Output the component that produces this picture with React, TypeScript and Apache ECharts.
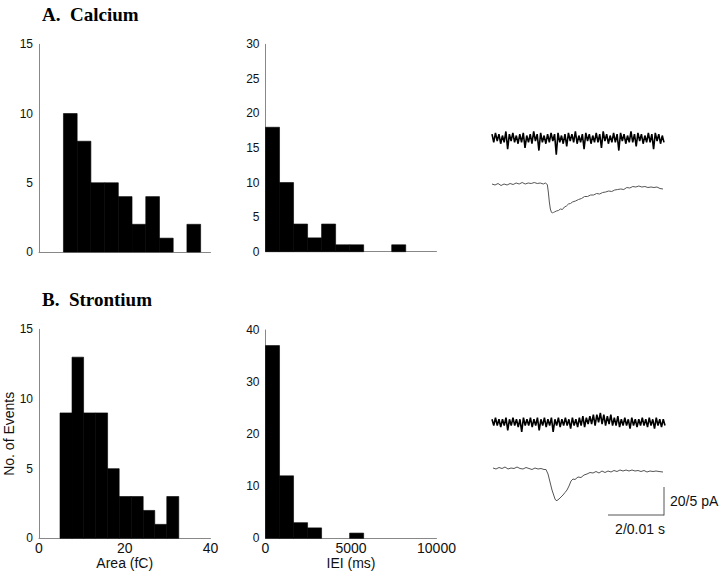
import React, { useEffect, useRef } from "react";
import * as echarts from "echarts";

// Histogram bin edges and counts
const caAreaEdges = [5.7, 8.9, 12.1, 15.3, 18.5, 21.7, 24.9, 28.1, 31.3, 34.5, 37.7];
const caAreaCounts = [10, 8, 5, 5, 4, 2, 4, 1, 0, 2];
const caIeiEdges = [0, 820, 1640, 2460, 3280, 4100, 4920, 5740, 6560, 7380, 8200];
const caIeiCounts = [18, 10, 4, 2, 4, 1, 1, 0, 0, 1];
const srAreaEdges = [4.9, 7.7, 10.4, 13.2, 16.0, 18.7, 21.5, 24.3, 27.0, 29.8, 32.6];
const srAreaCounts = [9, 13, 9, 9, 5, 3, 3, 2, 1, 3];
const srIeiEdges = [0, 820, 1640, 2460, 3280, 4100, 4920, 5740];
const srIeiCounts = [37, 12, 3, 2, 0, 0, 1];

// Tick settings
const areaTicks = [0, 20, 40];
const ieiTicks = [0, 5000, 10000];

// Raw noisy recordings (relative current, pA-ish)
const caNoise = [3, -3, 4, -2, 3, -4, 2, -3, 5, -8, 3, -2, 4, -3, 2, -4, 3, -3, 4, -7, 2, -3, 3, -4, 5, -2, 3, -9, 4, -3, 2, -4, 3, -3, 4, -2, 3, -12, 4, -3, 2, -4, 3, -6, 4, -2, 3, -3, 5, -4, 2, -3, 3, -8, 4, -2, 3, -4, 2, -3, 4, -3, 3, -7, 5, -2, 3, -4, 2, -3, 4, -3, 3, -9, 4, -2, 3, -4, 2, -3, 5, -3, 3, -6, 4, -2, 3, -4, 2, -3, 4, -3, 3, -8, 4, -2, 3, -4, 2, -3];
const srNoise = [2, -2, 3, -2, 2, -3, 2, -2, 3, -5, 2, -2, 3, -2, 2, -3, 2, -6, 3, -2, 2, -2, 3, -3, 2, -2, 3, -5, 2, -2, 3, -3, 2, -2, 3, -6, 2, -2, 3, -3, 2, -2, 3, -2, 2, -4, 3, -2, 2, -3, 3, -2, 4, -3, 3, -1, 4, -1, 5, -2, 5, 0, 6, -1, 5, -2, 4, -1, 5, -2, 3, -2, 4, -3, 2, -2, 3, -2, 2, -4, 3, -2, 2, -3, 2, -2, 3, -2, 2, -3, 3, -2, 2, -4, 3, -2, 2, -3, 2, -2];

// Averaged events [time, current]
const caAvg = [[0, 0], [3, -1], [6, 0.5], [9, -1.5], [12, 0], [15, -1], [18, 0.5], [21, -0.5], [24, 1], [27, 0], [30, 1.5], [33, 0], [36, 1], [39, 0.5], [42, 1.5], [45, 0.5], [48, 1], [51, 0], [53, 1], [55, -0.5], [56, -8], [57, -18], [58, -25], [59, -28], [60, -29], [61, -28.5], [62, -28], [64, -27], [66, -26.5], [68, -25], [70, -25.5], [72, -23], [74, -22], [76, -20], [78, -19.5], [80, -18], [83, -17], [86, -15.5], [89, -14.5], [92, -12.5], [95, -12.5], [98, -11], [101, -11], [104, -9.5], [107, -10], [110, -8.5], [113, -8], [116, -7], [119, -7.5], [122, -6], [125, -5.5], [128, -5], [131, -5.5], [134, -3.5], [137, -4], [140, -2.5], [143, -3], [146, -2], [149, -3], [152, -2.5], [155, -3.5], [158, -3], [161, -3.5], [164, -3], [167, -4.5], [170, -5]];
const srAvg = [[1, 0], [4, -1], [7, 0.5], [10, -0.5], [13, 1], [16, -1], [19, 0], [22, -0.5], [25, 1], [28, -0.5], [31, -1], [34, 0.5], [37, -0.5], [40, -1.5], [43, 0], [46, -1], [49, -0.5], [52, -1.5], [54, -1.5], [56, -6], [58, -14], [60, -22], [62, -28], [63, -31], [64, -32.5], [65, -32.5], [67, -31], [69, -29], [71, -27], [73, -24.5], [75, -22], [77, -18], [79, -13], [81, -11], [83, -11.5], [86, -9], [89, -9.5], [92, -7], [95, -6], [98, -4.5], [101, -5], [104, -3.5], [107, -5], [110, -3], [113, -4.5], [116, -3], [119, -4], [122, -2.5], [125, -3.5], [128, -2], [131, -3], [134, -2], [137, -3], [140, -2], [143, -3], [146, -2.5], [149, -3.5], [152, -2.5], [155, -4], [158, -3], [161, -3.5], [164, -3], [167, -3.5], [171, -4]];

const SANS = "'Liberation Sans', Arial, sans-serif";
const SERIF = "'Liberation Serif', 'Times New Roman', serif";

function histData(edges: number[], counts: number[]) {
  return counts.map((c, i) => [edges[i], edges[i + 1], c]);
}

const renderBar = (params: any, api: any) => {
  const x0 = api.value(0);
  const x1 = api.value(1);
  const c = api.value(2);
  if (!c) return null;
  const p0 = api.coord([x0, c]);
  const p1 = api.coord([x1, 0]);
  return {
    type: "rect",
    shape: { x: p0[0], y: p0[1], width: p1[0] - p0[0], height: p1[1] - p0[1] },
    style: { fill: "#000", stroke: "#000", lineWidth: 0.6 },
  };
};

export default function App() {
  const ref = useRef<HTMLDivElement>(null);
  useEffect(() => {
    document.body.style.margin = "0";
    const chart = echarts.init(ref.current!, null, { renderer: "svg" });
    const axisLine = { show: true, lineStyle: { color: "#888", width: 1 } };
    const yLabel = { fontFamily: SANS, fontSize: 12, color: "#111", margin: 6 };
    const xLabel = { fontFamily: SANS, fontSize: 14, color: "#111", margin: 3, formatter: (v: number) => String(v) };
    const grids = [
      { left: 39, top: 44.3, width: 171.5, height: 207.7 },
      { left: 265.5, top: 44.3, width: 171, height: 207.4 },
      { left: 39, top: 329.3, width: 171.5, height: 209 },
      { left: 265.5, top: 330, width: 171, height: 208.3 },
      { left: 492, top: 126, width: 172, height: 30 },
      { left: 492, top: 175, width: 172, height: 45 },
      { left: 492, top: 413, width: 173, height: 22 },
      { left: 492, top: 460, width: 172, height: 45 },
    ].map((g) => ({ ...g, outerBoundsMode: "none", containLabel: false }));

    const hiddenX = (gi: number, max: number) => ({ type: "value", gridIndex: gi, min: 0, max, show: false });
    const hiddenY = (gi: number, min: number, max: number) => ({ type: "value", gridIndex: gi, min, max, show: false });

    const option: any = {
      animation: false,
      backgroundColor: "#fff",
      title: [
        { text: "A.  Calcium", left: 37, top: 0, textStyle: { fontFamily: SERIF, fontWeight: "bold", fontSize: 19, color: "#000" } },
        { text: "B.  Strontium", left: 37, top: 285, textStyle: { fontFamily: SERIF, fontWeight: "bold", fontSize: 19, color: "#000" } },
      ],
      grid: grids,
      xAxis: [
        { type: "value", gridIndex: 0, min: areaTicks[0], max: areaTicks[2], interval: 20, axisLine, axisTick: { show: false }, axisLabel: { show: false }, splitLine: { show: false } },
        { type: "value", gridIndex: 1, min: ieiTicks[0], max: ieiTicks[2], interval: 5000, axisLine, axisTick: { show: false }, axisLabel: { show: false }, splitLine: { show: false } },
        { type: "value", gridIndex: 2, min: areaTicks[0], max: areaTicks[2], interval: 20, axisLine, axisTick: { show: false }, axisLabel: xLabel, splitLine: { show: false }, name: "Area (fC)", nameLocation: "middle", nameGap: 17, nameTextStyle: { fontFamily: SANS, fontSize: 14, color: "#111" } },
        { type: "value", gridIndex: 3, min: ieiTicks[0], max: ieiTicks[2], interval: 5000, axisLine, axisTick: { show: false }, axisLabel: xLabel, splitLine: { show: false }, name: "IEI (ms)", nameLocation: "middle", nameGap: 17, nameTextStyle: { fontFamily: SANS, fontSize: 14, color: "#111" } },
        hiddenX(4, caNoise.length - 1),
        hiddenX(5, 171),
        hiddenX(6, srNoise.length - 1),
        hiddenX(7, 172),
      ],
      yAxis: [
        { type: "value", gridIndex: 0, min: 0, max: 15, interval: 5, axisLine, axisTick: { show: false }, axisLabel: yLabel, splitLine: { show: false } },
        { type: "value", gridIndex: 1, min: 0, max: 30, interval: 5, axisLine, axisTick: { show: false }, axisLabel: yLabel, splitLine: { show: false } },
        { type: "value", gridIndex: 2, min: 0, max: 15, interval: 5, axisLine, axisTick: { show: false }, axisLabel: yLabel, splitLine: { show: false }, name: "No. of Events", nameLocation: "middle", nameGap: 22, nameTextStyle: { fontFamily: SANS, fontSize: 14, color: "#111" } },
        { type: "value", gridIndex: 3, min: 0, max: 40, interval: 10, axisLine, axisTick: { show: false }, axisLabel: yLabel, splitLine: { show: false } },
        hiddenY(4, -13, 9),
        hiddenY(5, -36, 9),
        hiddenY(6, -8, 6),
        hiddenY(7, -37, 8),
      ],
      series: [
        { type: "custom", xAxisIndex: 0, yAxisIndex: 0, renderItem: renderBar, encode: { x: [0, 1], y: 2 }, data: histData(caAreaEdges, caAreaCounts) },
        { type: "custom", xAxisIndex: 1, yAxisIndex: 1, renderItem: renderBar, encode: { x: [0, 1], y: 2 }, data: histData(caIeiEdges, caIeiCounts) },
        { type: "custom", xAxisIndex: 2, yAxisIndex: 2, renderItem: renderBar, encode: { x: [0, 1], y: 2 }, data: histData(srAreaEdges, srAreaCounts) },
        { type: "custom", xAxisIndex: 3, yAxisIndex: 3, renderItem: renderBar, encode: { x: [0, 1], y: 2 }, data: histData(srIeiEdges, srIeiCounts) },
        { type: "line", xAxisIndex: 4, yAxisIndex: 4, showSymbol: false, symbol: "none", lineStyle: { color: "#000", width: 1.6 }, data: caNoise.map((v, i) => [i, v]) },
        { type: "line", xAxisIndex: 5, yAxisIndex: 5, showSymbol: false, symbol: "none", lineStyle: { color: "#555", width: 1 }, data: caAvg },
        { type: "line", xAxisIndex: 6, yAxisIndex: 6, showSymbol: false, symbol: "none", lineStyle: { color: "#000", width: 1.6 }, data: srNoise.map((v, i) => [i, v]) },
        { type: "line", xAxisIndex: 7, yAxisIndex: 7, showSymbol: false, symbol: "none", lineStyle: { color: "#555", width: 1 }, data: srAvg },
      ],
      graphic: [
        { type: "line", shape: { x1: 664, y1: 487, x2: 664, y2: 515.5 }, style: { stroke: "#555", lineWidth: 1 } },
        { type: "line", shape: { x1: 608, y1: 515, x2: 664, y2: 515 }, style: { stroke: "#555", lineWidth: 1 } },
        { type: "text", x: 670, y: 501, style: { text: "20/5 pA", font: `14px ${SANS}`, fill: "#111", verticalAlign: "middle" } },
        { type: "text", x: 640, y: 529, style: { text: "2/0.01 s", font: `14px ${SANS}`, fill: "#111", align: "center", verticalAlign: "middle" } },
      ],
    };
    chart.setOption(option);
    return () => chart.dispose();
  }, []);
  return <div ref={ref} style={{ width: 720, height: 577 }} />;
}
